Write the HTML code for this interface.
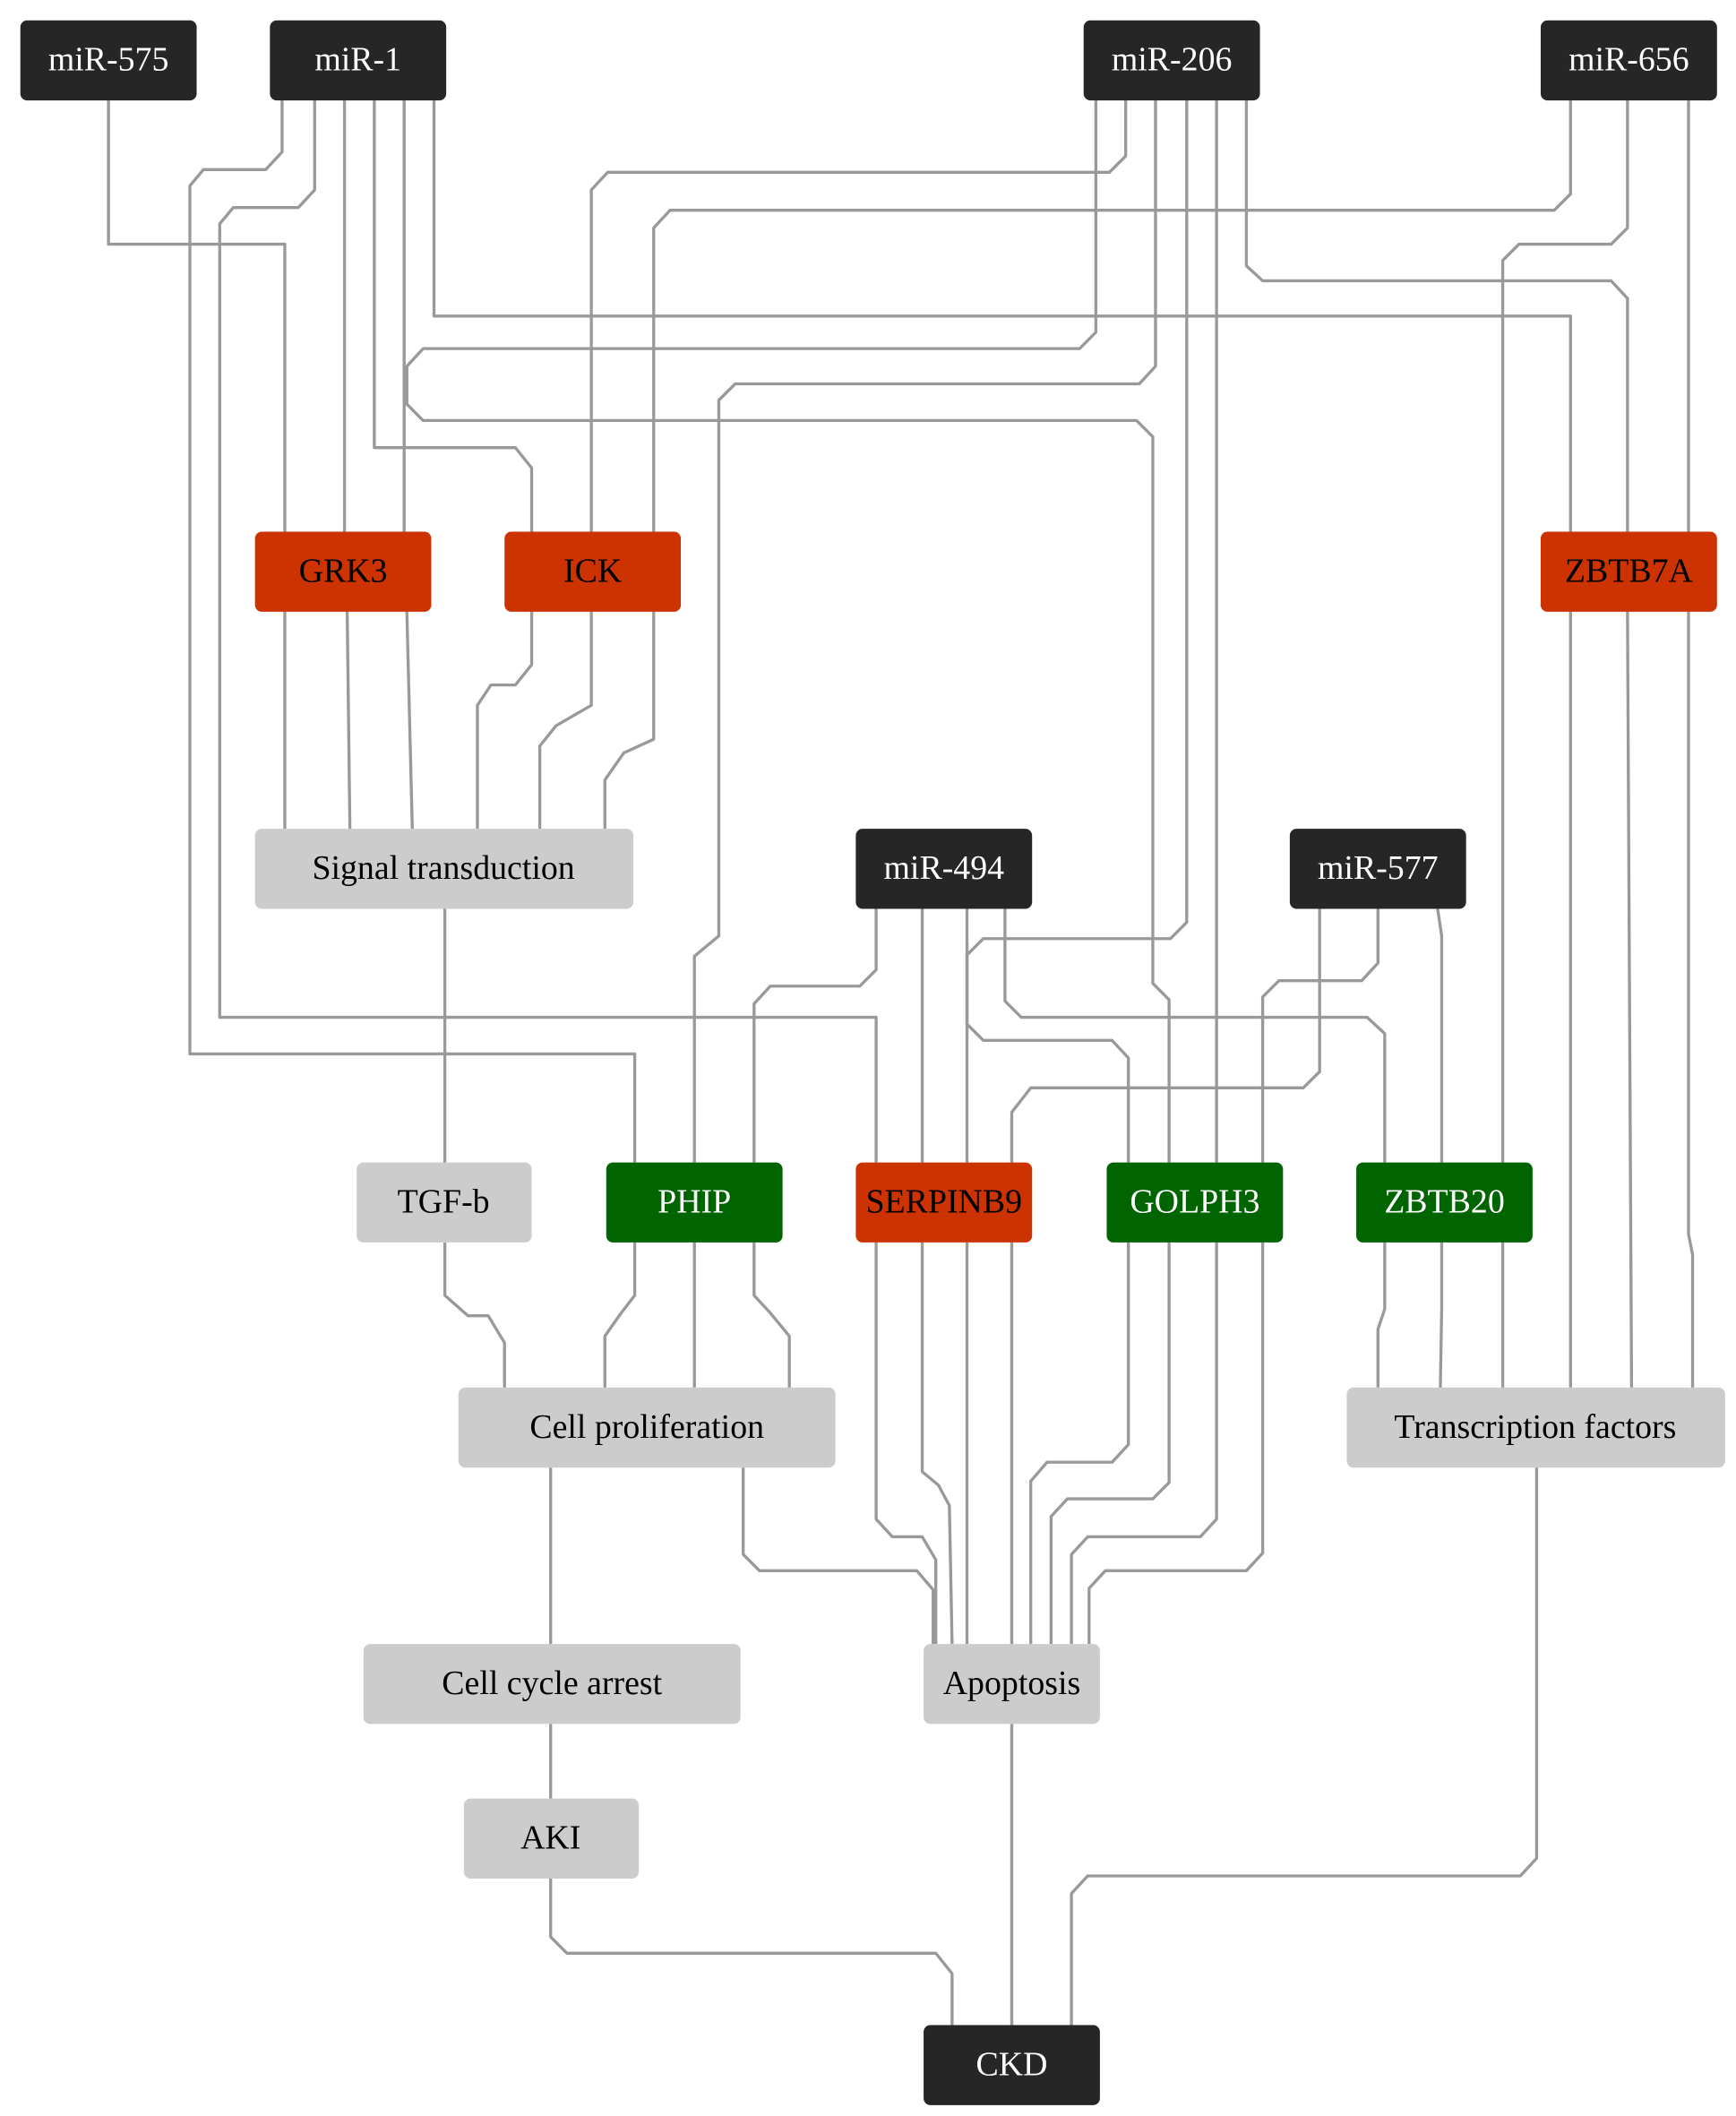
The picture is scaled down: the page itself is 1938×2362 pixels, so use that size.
<!DOCTYPE html>
<html><head><meta charset="utf-8"><style>
html,body{margin:0;padding:0;background:#fff;}
svg{display:block;}
text{font-family:"Liberation Serif",serif;font-size:25px;text-anchor:middle;dominant-baseline:central;}
.d{fill:#262626}.r{fill:#cc3300}.g{fill:#006400}.l{fill:#cccccc}
.w{fill:#fff}.b{fill:#000}
polyline{fill:none;stroke:#999;stroke-width:2.2;stroke-linejoin:round}
</style></head><body>
<svg width="1938" height="2362" viewBox="0 0 1280 1560" xmlns="http://www.w3.org/2000/svg">
<g>
<!-- miR-575 -->
<polyline points="80,74 80,180 210,180 210,392"/>
<polyline points="210,451 210,611"/>
<!-- miR-1 -->
<polyline points="208,74 208,112 196,125 150,125 140,137 140,777 468,777 468,857"/>
<polyline points="232,74 232,140 220,153 172,153 162,165 162,750 646,750 646,857"/>
<polyline points="254,74 254,392"/>
<polyline points="276,74 276,330 380,330 392,345 392,392"/>
<polyline points="298,74 298,392"/>
<polyline points="320,74 320,233 1158,233 1158,392"/>
<!-- GRK3/ICK to signal -->
<polyline points="256,451 258,611"/>
<polyline points="300,451 304,611"/>
<polyline points="392,451 392,490 380,505 362,505 352,520 352,611"/>
<polyline points="436,451 436,520 410,535 398,550 398,611"/>
<polyline points="482,451 482,545 460,555 446,575 446,611"/>
<!-- miR-206 -->
<polyline points="830,74 830,115 818,127 448,127 436,140 436,392"/>
<polyline points="808,74 808,245 796,257 312,257 300,270 300,298 312,310 838,310 850,322 850,725 862,737 862,857"/>
<polyline points="852,74 852,270 840,283 542,283 530,295 530,690 512,705 512,857"/>
<polyline points="875,74 875,680 863,692 725,692 713,704 713,857"/>
<polyline points="897,74 897,857"/>
<polyline points="919,74 919,196 931,207 1188,207 1200,220 1200,392"/>
<!-- miR-656 -->
<polyline points="1158,74 1158,143 1146,155 494,155 482,168 482,392"/>
<polyline points="1200,74 1200,168 1188,180 1120,180 1108,192 1108,1023"/>
<polyline points="1245,74 1245,392"/>
<polyline points="1158,451 1158,1023"/>
<polyline points="1200,451 1203,1023"/>
<polyline points="1245,451 1245,910 1248,925 1248,1023"/>
<!-- miR-494 -->
<polyline points="646,670 646,715 634,727 568,727 556,740 556,857"/>
<polyline points="680,670 680,857"/>
<polyline points="713,670 713,755 725,767 820,767 832,780 832,857"/>
<polyline points="741,670 741,738 753,750 1008,750 1021,762 1021,857"/>
<!-- miR-577 -->
<polyline points="973,670 973,790 961,802 760,802 746,820 746,857"/>
<polyline points="1016,670 1016,710 1004,723 943,723 931,735 931,857"/>
<polyline points="1060,670 1063,690 1063,857"/>
<!-- ZBTB20 to TF -->
<polyline points="1021,916 1021,965 1016,980 1016,1023"/>
<polyline points="1063,916 1063,965 1062,1023"/>
<!-- Signal to TGF-b -->
<polyline points="328,670 328,857"/>
<!-- TGF-b / PHIP to cell prol -->
<polyline points="328,916 328,955 345,970 360,970 372,990 372,1023"/>
<polyline points="468,916 468,955 458,968 446,985 446,1023"/>
<polyline points="512,916 512,1023"/>
<polyline points="556,916 556,955 568,968 582,985 582,1023"/>
<!-- SERPINB9 to Apoptosis -->
<polyline points="646,916 646,1120 658,1133 680,1133 690,1150 690,1212"/>
<polyline points="680,916 680,1085 692,1095 700,1110 702,1212"/>
<polyline points="713,916 713,1212"/>
<polyline points="746,916 746,1212"/>
<!-- GOLPH3 to Apoptosis -->
<polyline points="832,916 832,1065 820,1078 772,1078 760,1092 760,1212"/>
<polyline points="862,916 862,1093 850,1105 787,1105 775,1118 775,1212"/>
<polyline points="897,916 897,1120 885,1133 802,1133 790,1146 790,1212"/>
<polyline points="931,916 931,1145 919,1158 815,1158 803,1171 803,1212"/>
<!-- Cell prol to Apoptosis -->
<polyline points="548,1082 548,1146 560,1158 676,1158 688,1172 688,1212"/>
<!-- lower chain -->
<polyline points="406,1082 406,1212"/>
<polyline points="406,1271 406,1326"/>
<polyline points="406,1385 406,1428 418,1440 690,1440 702,1455 702,1493"/>
<polyline points="746,1271 746,1493"/>
<polyline points="1133,1082 1133,1370 1121,1383 802,1383 790,1396 790,1493"/>
</g>
<g>
<rect class="d" x="15" y="15" width="130" height="59" rx="5"/><text class="w" x="80" y="44">miR-575</text>
<rect class="d" x="199" y="15" width="130" height="59" rx="5"/><text class="w" x="264" y="44">miR-1</text>
<rect class="d" x="799" y="15" width="130" height="59" rx="5"/><text class="w" x="864" y="44">miR-206</text>
<rect class="d" x="1136" y="15" width="130" height="59" rx="5"/><text class="w" x="1201" y="44">miR-656</text>
<rect class="r" x="188" y="392" width="130" height="59" rx="5"/><text class="b" x="253" y="421">GRK3</text>
<rect class="r" x="372" y="392" width="130" height="59" rx="5"/><text class="b" x="437" y="421">ICK</text>
<rect class="r" x="1136" y="392" width="130" height="59" rx="5"/><text class="b" x="1201" y="421">ZBTB7A</text>
<rect class="l" x="188" y="611" width="279" height="59" rx="5"/><text class="b" x="327" y="640">Signal transduction</text>
<rect class="d" x="631" y="611" width="130" height="59" rx="5"/><text class="w" x="696" y="640">miR-494</text>
<rect class="d" x="951" y="611" width="130" height="59" rx="5"/><text class="w" x="1016" y="640">miR-577</text>
<rect class="l" x="263" y="857" width="129" height="59" rx="5"/><text class="b" x="327" y="886">TGF-b</text>
<rect class="g" x="447" y="857" width="130" height="59" rx="5"/><text class="w" x="512" y="886">PHIP</text>
<rect class="r" x="631" y="857" width="130" height="59" rx="5"/><text class="b" x="696" y="886">SERPINB9</text>
<rect class="g" x="816" y="857" width="130" height="59" rx="5"/><text class="w" x="881" y="886">GOLPH3</text>
<rect class="g" x="1000" y="857" width="130" height="59" rx="5"/><text class="w" x="1065" y="886">ZBTB20</text>
<rect class="l" x="338" y="1023" width="278" height="59" rx="5"/><text class="b" x="477" y="1052">Cell proliferation</text>
<rect class="l" x="993" y="1023" width="279" height="59" rx="5"/><text class="b" x="1132" y="1052">Transcription factors</text>
<rect class="l" x="268" y="1212" width="278" height="59" rx="5"/><text class="b" x="407" y="1241">Cell cycle arrest</text>
<rect class="l" x="681" y="1212" width="130" height="59" rx="5"/><text class="b" x="746" y="1241">Apoptosis</text>
<rect class="l" x="342" y="1326" width="129" height="59" rx="5"/><text class="b" x="406" y="1355">AKI</text>
<rect class="d" x="681" y="1493" width="130" height="59" rx="5"/><text class="w" x="746" y="1522">CKD</text>
</g>
</svg>
</body></html>
